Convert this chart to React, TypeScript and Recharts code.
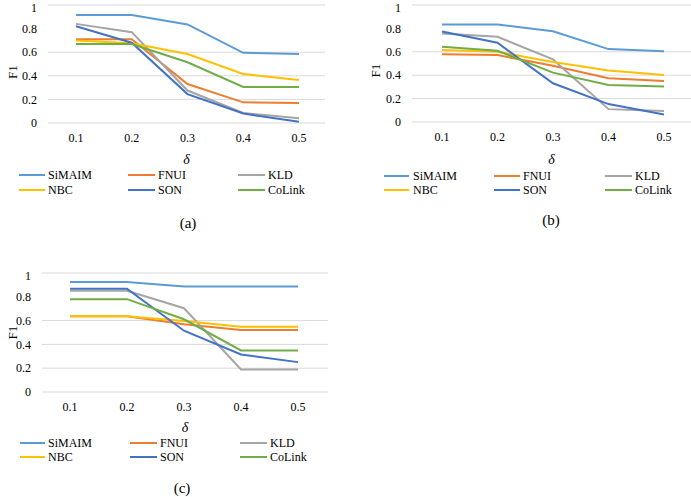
import React from 'react';
import { LineChart, Line, XAxis, YAxis, CartesianGrid, Label } from 'recharts';

const deltas = ['0.1', '0.2', '0.3', '0.4', '0.5'];
const yTicks = [0, 0.2, 0.4, 0.6, 0.8, 1];
const seriesNames = ['SiMAIM', 'FNUI', 'KLD', 'NBC', 'SON', 'CoLink'];
const seriesColors = ['#5B9BD5', '#ED7D31', '#A5A5A5', '#FFC000', '#4472C4', '#70AD47'];

// panel (a)
const simaimA = [0.915, 0.915, 0.835, 0.595, 0.585];
const fnuiA = [0.71, 0.71, 0.33, 0.175, 0.17];
const kldA = [0.84, 0.77, 0.275, 0.085, 0.04];
const nbcA = [0.70, 0.675, 0.585, 0.415, 0.365];
const sonA = [0.82, 0.68, 0.245, 0.08, 0.01];
const colinkA = [0.67, 0.67, 0.515, 0.305, 0.305];

// panel (b)
const simaimB = [0.833, 0.833, 0.776, 0.623, 0.605];
const fnuiB = [0.58, 0.572, 0.48, 0.374, 0.35];
const kldB = [0.756, 0.728, 0.535, 0.11, 0.093];
const nbcB = [0.615, 0.60, 0.513, 0.44, 0.402];
const sonB = [0.773, 0.677, 0.331, 0.153, 0.065];
const colinkB = [0.643, 0.609, 0.422, 0.317, 0.303];

// panel (c)
const simaimC = [0.924, 0.924, 0.887, 0.887, 0.887];
const fnuiC = [0.637, 0.637, 0.569, 0.521, 0.521];
const kldC = [0.851, 0.851, 0.704, 0.189, 0.189];
const nbcC = [0.637, 0.637, 0.597, 0.549, 0.549];
const sonC = [0.868, 0.868, 0.515, 0.315, 0.251];
const colinkC = [0.78, 0.78, 0.611, 0.349, 0.349];

const serif = 'Liberation Serif, DejaVu Serif, serif';

const buildData = (values: number[][]) =>
  deltas.map((d, i) => {
    const row: any = { delta: d };
    seriesNames.forEach((n, k) => {
      row[n] = values[k][i];
    });
    return row;
  });

const Panel = ({ x, y, w, h, yw, mr, xh, pad, values, f1x, f1dy }: any) => {
  const data = buildData(values);
  return (
    <div style={{ position: 'absolute', left: x, top: y }}>
      <LineChart width={w} height={h} data={data} margin={{ top: 5, right: mr, bottom: 0, left: 0 }}>
        <CartesianGrid vertical={false} stroke="#D9D9D9" />
        <XAxis
          dataKey="delta"
          axisLine={false}
          tickLine={false}
          tickSize={8}
          height={xh}
          padding={pad}
          interval={0}
          tick={{ fill: '#000', fontSize: 12, fontFamily: serif }}
        >
          <Label
            value="δ"
            position="insideBottom"
            offset={6}
            style={{ fontStyle: 'italic', fontSize: 14, fill: '#000', fontFamily: serif }}
          />
        </XAxis>
        <YAxis
          domain={[0, 1]}
          ticks={yTicks}
          width={yw}
          axisLine={false}
          tickLine={false}
          tickSize={9}
          tick={{ fill: '#000', fontSize: 12, fontFamily: serif }}
          label={{
            content: (props: any) => {
              const vb = props.viewBox || {};
              const cx = (vb.x || 0) + f1x;
              const cy = (vb.y || 0) + (vb.height || 0) / 2 + f1dy;
              return (
                <text
                  x={cx}
                  y={cy}
                  transform={`rotate(-90 ${cx} ${cy})`}
                  textAnchor="middle"
                  dominantBaseline="central"
                  fill="#000"
                  fontSize={13}
                  fontFamily={serif}
                >
                  F1
                </text>
              );
            },
          }}
        />
        {seriesNames.map((n, k) => (
          <Line
            key={n}
            dataKey={n}
            stroke={seriesColors[k]}
            strokeWidth={2}
            dot={false}
            activeDot={false}
            type="linear"
            isAnimationActive={false}
          />
        ))}
      </LineChart>
    </div>
  );
};

const LegendBox = ({ cols, rows }: any) => (
  <>
    {seriesNames.map((n, k) => {
      const col = cols[k % 3];
      const row = rows[Math.floor(k / 3)];
      return (
        <React.Fragment key={n}>
          <div
            style={{
              position: 'absolute',
              left: col[0],
              top: row - 1,
              width: col[1] - col[0],
              height: 2,
              background: seriesColors[k],
            }}
          />
          <div
            style={{
              position: 'absolute',
              left: col[2],
              top: row - 7,
              lineHeight: '14px',
              fontSize: 12,
              fontFamily: serif,
              color: '#000',
              whiteSpace: 'nowrap',
            }}
          >
            {n}
          </div>
        </React.Fragment>
      );
    })}
  </>
);

const Caption = ({ x, y, text }: any) => (
  <div
    style={{
      position: 'absolute',
      left: x - 20,
      width: 40,
      top: y - 9,
      lineHeight: '18px',
      textAlign: 'center',
      fontSize: 15,
      fontFamily: serif,
      color: '#000',
    }}
  >
    {text}
  </div>
);

export default function App() {
  return (
    <div style={{ position: 'absolute', left: 0, top: 0, width: 691, height: 497, background: '#fff', overflow: 'hidden' }}>
      <Panel
        x={0}
        y={0}
        w={340}
        h={170}
        yw={48}
        mr={15}
        xh={47}
        pad={{ left: 28, right: 26 }}
        values={[simaimA, fnuiA, kldA, nbcA, sonA, colinkA]}
        f1x={12}
        f1dy={8}
      />
      <LegendBox cols={[[19, 45, 48], [128, 155, 158], [238, 265, 268]]} rows={[175, 190]} />
      <Caption x={188} y={223} text="(a)" />

      <Panel
        x={345}
        y={0}
        w={346}
        h={170}
        yw={67}
        mr={0}
        xh={48}
        pad={{ left: 30, right: 27 }}
        values={[simaimB, fnuiB, kldB, nbcB, sonB, colinkB]}
        f1x={30}
        f1dy={7}
      />
      <LegendBox cols={[[384, 409, 413], [494, 520, 523], [605, 632, 635]]} rows={[176, 190]} />
      <Caption x={551} y={220} text="(b)" />

      <Panel
        x={0}
        y={268}
        w={340}
        h={170}
        yw={42}
        mr={12}
        xh={46}
        pad={{ left: 28, right: 30 }}
        values={[simaimC, fnuiC, kldC, nbcC, sonC, colinkC]}
        f1x={12}
        f1dy={0}
      />
      <LegendBox cols={[[20, 45, 48], [130, 157, 160], [240, 267, 270]]} rows={[443, 457]} />
      <Caption x={182} y={488} text="(c)" />
    </div>
  );
}
